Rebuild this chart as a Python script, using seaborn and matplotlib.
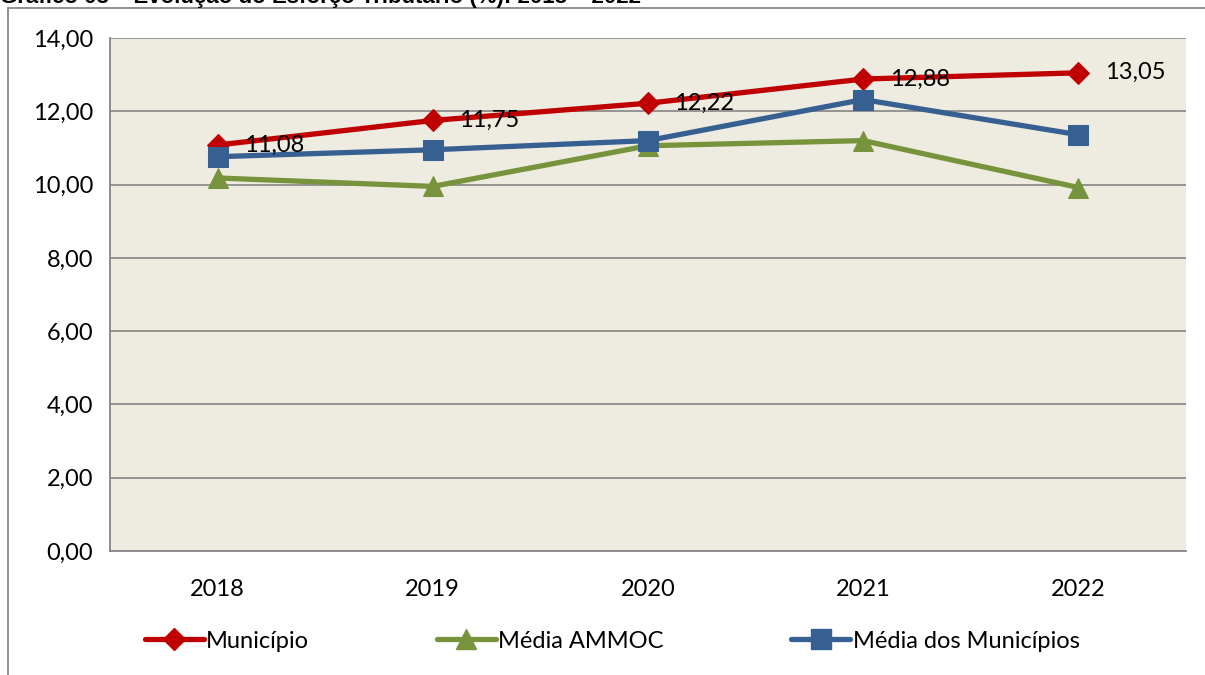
import numpy as np
import pandas as pd
import seaborn as sns
import matplotlib.pyplot as plt
from matplotlib.lines import Line2D

# dados do gráfico
anos = ["2018", "2019", "2020", "2021", "2022"]
municipio = [11.08, 11.75, 12.22, 12.88, 13.05]
media_ammoc = [10.18, 9.95, 11.06, 11.20, 9.92]
media_municipios = [10.76, 10.95, 11.20, 12.32, 11.36]
series = ["Município", "Média AMMOC", "Média dos Municípios"]
y_ticks = [0, 2, 4, 6, 8, 10, 12, 14]

cores = {"Município": "#C00000", "Média AMMOC": "#77933C", "Média dos Municípios": "#376092"}
marcadores = {"Município": "D", "Média AMMOC": "^", "Média dos Municípios": "s"}
tamanhos = {"Município": 11, "Média AMMOC": 14, "Média dos Municípios": 14}

df = pd.DataFrame({
    "ano": anos * 3,
    "valor": municipio + media_ammoc + media_municipios,
    "serie": [series[0]] * 5 + [series[1]] * 5 + [series[2]] * 5,
})

sns.set_style("white")
plt.rcParams["font.family"] = ["Lato", "DejaVu Sans"]
plt.rcParams["text.color"] = "black"
plt.rcParams["xtick.color"] = "black"
plt.rcParams["ytick.color"] = "black"
FS = 17

fig = plt.figure(figsize=(12.05, 6.75), dpi=100)
ax = fig.add_axes([110 / 1205, 1 - 551 / 675, (1186 - 110) / 1205, (551 - 38) / 675])
ax.set_facecolor("#EEEBE0")

for s in series:
    sub = df[df["serie"] == s]
    sns.lineplot(data=sub, x="ano", y="valor", color=cores[s], marker=marcadores[s],
                 markersize=tamanhos[s], markeredgecolor=cores[s], linewidth=3.8,
                 ax=ax, label=None, legend=False, sort=False)

# rótulos do Município
for i, v in enumerate(municipio):
    ax.annotate(f"{v:.2f}".replace(".", ","), (i, v), xytext=(19, 0),
                textcoords="offset points", ha="left", va="center", fontsize=FS)

ax.set_xlim(-0.5, 4.5)
ax.set_ylim(0, 14)
ax.set_yticks(y_ticks)
ax.set_yticklabels([f"{t:.2f}".replace(".", ",") for t in y_ticks], fontsize=FS)
ax.set_xticks(range(5))
ax.set_xticklabels(anos, fontsize=FS)
ax.set_xticks(np.arange(-0.5, 5, 1), minor=True)
ax.tick_params(axis="x", which="major", length=0, pad=20)
ax.tick_params(axis="x", which="minor", length=7, color="#868686", direction="out")
ax.tick_params(axis="y", length=7, color="#868686", labelcolor="black", direction="out", pad=5)
ax.yaxis.grid(True, color="#8C8C8C", linewidth=1.3)
ax.set_axisbelow(True)
ax.set_xlabel("")
ax.set_ylabel("")
for lado in ["top", "right"]:
    ax.spines[lado].set_visible(False)
for lado in ["left", "bottom"]:
    ax.spines[lado].set_color("#868686")
    ax.spines[lado].set_linewidth(1.3)

handles = [Line2D([0], [0], color=cores[s], marker=marcadores[s], markersize=tamanhos[s],
                  linewidth=3.8) for s in series]
fig.legend(handles, series, loc="center", bbox_to_anchor=(0.508, 1 - 641 / 675), ncol=3,
           frameon=False, fontsize=FS, handlelength=2.5, handletextpad=0.1, columnspacing=5.4)

# moldura do gráfico
fig.add_artist(Line2D([8 / 1205, 1], [1 - 8 / 675, 1 - 8 / 675], color="#888888", linewidth=1.3))
fig.add_artist(Line2D([8 / 1205, 8 / 1205], [0, 1 - 8 / 675], color="#888888", linewidth=1.3))

# título (cortado no topo, como no original)
fig.text(0.0, 1 - 3 / 675, "Gráfico 03 – Evolução do Esforço Tributário (%): 2018 – 2022",
         ha="left", va="baseline", fontsize=16, fontweight="bold", family="Liberation Sans")

fig.savefig("out.png", dpi=100)
